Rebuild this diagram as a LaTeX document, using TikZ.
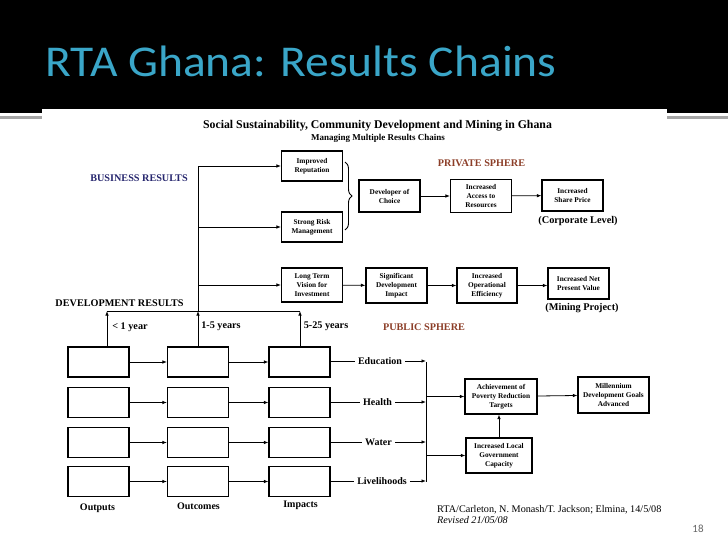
\documentclass[tikz,border=0pt]{standalone}
\usepackage{fontspec}
\setmainfont{Liberation Serif}
\newfontfamily\titlefont[FakeStretch=1.08]{Carlito}
\newfontfamily\pagefont{Carlito}
\usepackage{xcolor}
\usepackage{tikz}
\usetikzlibrary{arrows.meta, positioning, calc, decorations.pathreplacing}
\definecolor{titleblue}{RGB}{58,166,200}
\definecolor{navy}{RGB}{38,38,110}
\definecolor{sphere}{RGB}{140,62,40}

\begin{document}
\begin{tikzpicture}[
    x=1pt, y=-1pt,
    box/.style={draw, line width=1.1pt, align=center, inner sep=0pt,
        minimum width=61pt, minimum height=30pt,
        font=\fontsize{7.3}{9}\selectfont\bfseries},
    cell/.style={draw, line width=1.1pt, minimum width=61pt, minimum height=30pt, inner sep=0pt},
    arr/.style={-{Latex[length=4.5pt,width=3.5pt]}, line width=0.8pt},
    lbl/.style={inner sep=0pt, font=\fontsize{10.2}{11}\selectfont\bfseries},
    chan/.style={inner sep=3pt, font=\fontsize{10}{11}\selectfont\bfseries}
]
    % slide background
    \useasboundingbox (0,0) rectangle (728,546);
    \fill[white] (0,0) rectangle (728,546);
    \fill[black] (0,0) rectangle (728,113);
    \fill[gray!70] (0,116) rectangle (728,118.5);
    \fill[white] (42,109) rectangle (667,546);
    \node[anchor=base west, inner sep=0pt, text=titleblue,
          font=\titlefont\fontsize{44}{46}\selectfont] (title) at (45,76) {RTA Ghana: Results Chains};

    % headings
    \node[inner sep=0pt, font=\fontsize{11.8}{13}\selectfont\bfseries] (head) at (377.5,126)
        {Social Sustainability, Community Development and Mining in Ghana};
    \node[inner sep=0pt, font=\fontsize{9}{10}\selectfont\bfseries] (sub) at (378,138)
        {Managing Multiple Results Chains};
    \node[lbl, text=navy] (bus) at (139,178) {BUSINESS RESULTS};
    \node[lbl] (devres) at (119.5,303) {DEVELOPMENT RESULTS};
    \node[lbl, text=sphere] (priv) at (481.5,163) {PRIVATE SPHERE};
    \node[lbl, text=sphere] (publ) at (424,327) {PUBLIC SPHERE};

    % private sphere
    \node[box] (rep) at (312,166) {Improved\\Reputation};
    \node[box] (risk) at (312,227) {Strong Risk\\Management};
    \node[box, minimum height=34pt] (ltv) at (312,285) {Long Term\\Vision for\\Investment};
    \node[box, minimum height=32pt] (choice) at (389.5,196) {Developer of\\Choice};
    \node[box, minimum height=33pt] (access) at (481,196) {Increased\\Access to\\Resources};
    \node[box, minimum height=31pt] (share) at (572.5,195.5) {Increased\\Share Price};
    \node[box, minimum height=35pt] (sdi) at (396.5,285.5) {Significant\\Development\\Impact};
    \node[box, minimum height=35pt, minimum width=60pt] (eff) at (487,285.5) {Increased\\Operational\\Efficiency};
    \node[box, minimum height=31pt] (npv) at (578.5,283.5) {Increased Net\\Present Value};
    \node[lbl, font=\fontsize{10.3}{11}\selectfont\bfseries] (corp) at (578,221) {(Corporate Level)};
    \node[lbl, font=\fontsize{10.3}{11}\selectfont\bfseries] (mine) at (582,308) {(Mining Project)};

    \draw[decorate, decoration={brace, amplitude=7pt}, line width=0.9pt] (345,162) -- (345,230);
    \draw[arr] (choice) -- (access);
    \draw[arr] (access) -- (share);
    \draw[arr] (ltv) -- (sdi);
    \draw[arr] (sdi) -- (eff);
    \draw[arr] (eff) -- (npv.west |- eff);

    % public sphere grid
    \foreach \r/\y in {1/362, 2/402.5, 3/442.5, 4/481.5} {
        \node[cell] (g\r1) at (98.5,\y) {};
        \node[cell] (g\r2) at (198,\y) {};
        \node[cell] (g\r3) at (299.5,\y) {};
        \draw[arr] (g\r1) -- (g\r2);
        \draw[arr] (g\r2) -- (g\r3);
    }
    \node[lbl, font=\fontsize{10}{11}\selectfont\bfseries] (outp) at (97.5,508) {Outputs};
    \node[lbl, font=\fontsize{10}{11}\selectfont\bfseries] (outc) at (198.5,506) {Outcomes};
    \node[lbl, font=\fontsize{10}{11}\selectfont\bfseries] (impa) at (300.5,505) {Impacts};

    % development results trunk
    \coordinate (dl) at (107,311);
    \coordinate (dm) at (198,311);
    \coordinate (dr) at (300,311);
    \coordinate (top) at (198,166);
    \draw[line width=0.9pt] (dl) -- (dr);
    \draw[line width=0.9pt] (dm) -- (top);
    \draw[arr] (g11.north -| dl) -- (dl);
    \draw[arr] (g12.north) -- (dm);
    \draw[arr] (g13.north -| dr) -- (dr);
    \draw[arr] (top) -- (rep);
    \draw[arr] (risk -| dm) -- (risk);
    \draw[arr] (ltv -| dm) -- (ltv);
    \node[lbl] (lt1) at (130,327) {< 1 year};
    \node[lbl] (y15) at (221,326) {1-5 years};
    \node[lbl] (y525) at (326,326) {5-25 years};

    % sectors
    \node[chan] (edu) at (380,361) {Education};
    \node[chan] (hea) at (377.5,402) {Health};
    \node[chan] (wat) at (378.5,442) {Water};
    \node[chan] (liv) at (382,481) {Livelihoods};
    \coordinate (jt) at (426,362);
    \coordinate (jb) at (426,482);
    \draw[line width=0.9pt] (jt) -- (jb);
    \foreach \s/\r in {edu/1, hea/2, wat/3, liv/4} {
        \draw[line width=0.9pt] (g\r3.east |- \s) -- (\s);
        \draw[arr] (\s) -- (\s -| jt);
    }
    \node[box, minimum width=72pt, minimum height=35pt] (apr) at (501,396.5) {Achievement of\\Poverty Reduction\\Targets};
    \node[box, minimum width=71pt, minimum height=36pt] (mdg) at (613.5,395) {Millennium\\Development Goals\\Advanced};
    \node[box, minimum width=66pt, minimum height=35pt] (lgc) at (499,455.5) {Increased Local\\Government\\Capacity};
    \draw[arr] (apr -| jt) -- (apr);
    \draw[arr] (lgc -| jt) -- (lgc);
    \draw[arr] (apr) -- (mdg);
    \draw[arr] (lgc.north) -- (lgc.north |- apr.south);

    % footer
    \node[anchor=base west, inner sep=0pt, font=\fontsize{10.2}{11}\selectfont] (src) at (437,512)
        {RTA/Carleton, N. Monash/T. Jackson; Elmina, 14/5/08};
    \node[anchor=base west, inner sep=0pt, font=\fontsize{10.2}{11}\selectfont\itshape] (rev) at (437,523)
        {Revised 21/05/08};
    \node[inner sep=0pt, text=gray!80!black, font=\pagefont\fontsize{11}{12}\selectfont] (pg) at (698,529) {18};
\end{tikzpicture}
\end{document}
